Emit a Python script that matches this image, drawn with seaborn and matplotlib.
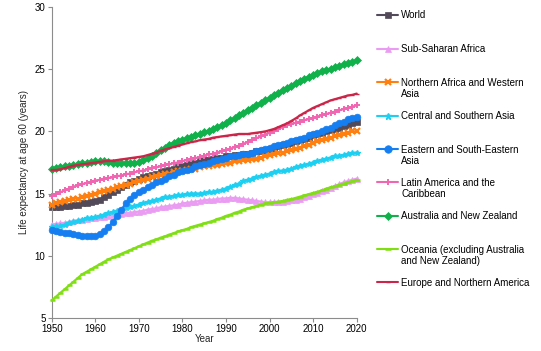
import numpy as np
import pandas as pd
import matplotlib
matplotlib.use("Agg")
import matplotlib.pyplot as plt
from matplotlib.lines import Line2D
import seaborn as sns

years = list(range(1950, 2021))

world = [13.9, 13.9, 13.9, 14.0, 14.0, 14.1, 14.1, 14.2, 14.2, 14.3,
         14.4, 14.5, 14.7, 14.9, 15.1, 15.3, 15.5, 15.7, 15.9, 16.0,
         16.2, 16.3, 16.4, 16.5, 16.6, 16.7, 16.8, 16.9, 17.0, 17.1,
         17.2, 17.3, 17.4, 17.5, 17.6, 17.7, 17.7, 17.8, 17.9, 17.9,
         18.0, 18.0, 18.1, 18.1, 18.2, 18.2, 18.3, 18.4, 18.4, 18.5,
         18.6, 18.7, 18.8, 18.9, 19.0, 19.1, 19.2, 19.3, 19.4, 19.5,
         19.7, 19.8, 19.9, 20.0, 20.1, 20.2, 20.3, 20.4, 20.5, 20.7, 20.8]

sub_saharan = [12.5, 12.55, 12.6, 12.65, 12.7, 12.8, 12.85, 12.9, 12.95, 13.0,
               13.05, 13.1, 13.15, 13.2, 13.25, 13.3, 13.35, 13.4, 13.45, 13.5,
               13.55, 13.6, 13.7, 13.75, 13.8, 13.9, 13.95, 14.0, 14.05, 14.1,
               14.2, 14.25, 14.3, 14.35, 14.4, 14.45, 14.5, 14.5, 14.55, 14.6,
               14.6, 14.65, 14.65, 14.6, 14.55, 14.5, 14.45, 14.4, 14.35, 14.3,
               14.3, 14.3, 14.3, 14.35, 14.4, 14.45, 14.5, 14.6, 14.7, 14.8,
               14.95, 15.05, 15.2, 15.3, 15.45, 15.6, 15.75, 15.9, 16.0, 16.1, 16.2]

n_africa_w_asia = [14.1, 14.2, 14.3, 14.4, 14.5, 14.6, 14.6, 14.7, 14.8, 14.9,
                   15.0, 15.1, 15.2, 15.3, 15.4, 15.5, 15.6, 15.7, 15.8, 15.9,
                   16.0, 16.1, 16.2, 16.3, 16.4, 16.5, 16.6, 16.6, 16.7, 16.8,
                   16.8, 16.9, 17.0, 17.0, 17.1, 17.2, 17.2, 17.3, 17.3, 17.4,
                   17.5, 17.5, 17.6, 17.6, 17.7, 17.7, 17.8, 17.8, 17.9, 18.0,
                   18.1, 18.2, 18.3, 18.3, 18.4, 18.5, 18.6, 18.7, 18.8, 18.9,
                   19.1, 19.2, 19.3, 19.4, 19.5, 19.6, 19.7, 19.8, 19.9, 20.0, 20.0]

c_s_asia = [12.3, 12.35, 12.4, 12.5, 12.6, 12.7, 12.8, 12.9, 13.0, 13.05,
            13.1, 13.2, 13.3, 13.4, 13.5, 13.6, 13.7, 13.8, 13.9, 14.0,
            14.1, 14.2, 14.3, 14.4, 14.5, 14.6, 14.7, 14.75, 14.8, 14.85,
            14.9, 14.95, 15.0, 15.0, 15.0, 15.05, 15.1, 15.1, 15.2, 15.3,
            15.4, 15.5, 15.7, 15.8, 16.0, 16.1, 16.2, 16.3, 16.4, 16.5,
            16.6, 16.7, 16.8, 16.85, 16.9, 17.0, 17.1, 17.2, 17.3, 17.4,
            17.5, 17.6, 17.7, 17.8, 17.9, 18.0, 18.05, 18.1, 18.2, 18.25, 18.3]

e_se_asia = [12.1, 12.0, 11.9, 11.85, 11.8, 11.75, 11.7, 11.6, 11.55, 11.55,
             11.6, 11.75, 12.0, 12.3, 12.7, 13.2, 13.7, 14.2, 14.6, 14.9,
             15.1, 15.3, 15.5, 15.7, 15.9, 16.0, 16.2, 16.4, 16.5, 16.7,
             16.8, 16.9, 17.0, 17.2, 17.3, 17.4, 17.5, 17.6, 17.7, 17.8,
             17.9, 18.0, 18.0, 18.1, 18.2, 18.2, 18.3, 18.4, 18.5, 18.6,
             18.7, 18.8, 18.9, 19.0, 19.1, 19.2, 19.3, 19.4, 19.5, 19.7,
             19.8, 19.9, 20.0, 20.2, 20.3, 20.5, 20.7, 20.8, 21.0, 21.1, 21.2]

latin_america = [14.8, 14.95, 15.1, 15.25, 15.4, 15.55, 15.65, 15.75, 15.85, 15.95,
                 16.05, 16.1, 16.2, 16.25, 16.3, 16.4, 16.45, 16.55, 16.6, 16.7,
                 16.8, 16.85, 16.95, 17.05, 17.1, 17.2, 17.3, 17.35, 17.45, 17.5,
                 17.6, 17.7, 17.8, 17.85, 17.95, 18.05, 18.15, 18.2, 18.3, 18.4,
                 18.5, 18.6, 18.75, 18.85, 19.0, 19.15, 19.3, 19.45, 19.6, 19.75,
                 19.9, 20.05, 20.2, 20.35, 20.5, 20.6, 20.7, 20.8, 20.9, 21.0,
                 21.1, 21.2, 21.3, 21.4, 21.5, 21.6, 21.7, 21.8, 21.9, 22.0, 22.1]

australia_nz = [17.0, 17.05, 17.1, 17.2, 17.25, 17.3, 17.4, 17.45, 17.5, 17.55,
                17.6, 17.6, 17.6, 17.55, 17.5, 17.5, 17.45, 17.45, 17.45, 17.5,
                17.55, 17.7, 17.85, 18.05, 18.3, 18.5, 18.7, 18.9, 19.1, 19.2,
                19.35, 19.45, 19.55, 19.7, 19.8, 19.95, 20.05, 20.2, 20.35, 20.5,
                20.7, 20.9, 21.1, 21.3, 21.5, 21.7, 21.9, 22.1, 22.3, 22.5,
                22.7, 22.9, 23.1, 23.3, 23.5, 23.7, 23.9, 24.1, 24.25, 24.4,
                24.55, 24.7, 24.85, 24.95, 25.05, 25.2, 25.3, 25.4, 25.5, 25.6, 25.75]

oceania_other = [6.4, 6.7, 7.0, 7.3, 7.6, 7.9, 8.2, 8.5, 8.7, 8.9,
                 9.1, 9.3, 9.5, 9.7, 9.85, 10.0, 10.15, 10.3, 10.45, 10.6,
                 10.75, 10.9, 11.05, 11.2, 11.3, 11.45, 11.55, 11.7, 11.8, 11.95,
                 12.05, 12.15, 12.3, 12.4, 12.5, 12.6, 12.7, 12.8, 12.95, 13.05,
                 13.2, 13.3, 13.45, 13.55, 13.7, 13.8, 13.9, 14.0, 14.1, 14.2,
                 14.25, 14.3, 14.35, 14.4, 14.5, 14.55, 14.65, 14.75, 14.85, 14.95,
                 15.05, 15.15, 15.25, 15.4, 15.5, 15.6, 15.7, 15.8, 15.9, 16.0, 16.1]

europe_na = [16.9, 16.9, 16.95, 17.05, 17.15, 17.25, 17.3, 17.35, 17.4, 17.45,
             17.5, 17.55, 17.6, 17.65, 17.65, 17.7, 17.75, 17.8, 17.85, 17.9,
             17.95, 18.0, 18.1, 18.2, 18.3, 18.45, 18.55, 18.65, 18.75, 18.85,
             18.95, 19.05, 19.15, 19.2, 19.3, 19.35, 19.4, 19.5, 19.55, 19.6,
             19.65, 19.7, 19.75, 19.8, 19.8, 19.8, 19.85, 19.9, 19.95, 20.0,
             20.1, 20.2, 20.35, 20.5, 20.65, 20.85, 21.05, 21.3, 21.5, 21.7,
             21.9, 22.05, 22.2, 22.35, 22.5, 22.6, 22.7, 22.8, 22.9, 22.95, 23.05]

series_names = ["World", "Sub-Saharan Africa", "Northern Africa and Western Asia",
                "Central and Southern Asia", "Eastern and South-Eastern Asia",
                "Latin America and the Caribbean", "Australia and New Zealand",
                "Oceania (excluding Australia and New Zealand)",
                "Europe and Northern America"]
legend_labels = ["World", "Sub-Saharan Africa", "Northern Africa and Western\nAsia",
                 "Central and Southern Asia", "Eastern and South-Eastern\nAsia",
                 "Latin America and the\nCaribbean", "Australia and New Zealand",
                 "Oceania (excluding Australia\nand New Zealand)",
                 "Europe and Northern America"]
series_values = [world, sub_saharan, n_africa_w_asia, c_s_asia, e_se_asia,
                 latin_america, australia_nz, oceania_other, europe_na]

x_ticks = [1950, 1960, 1970, 1980, 1990, 2000, 2010, 2020]
y_ticks = [5, 10, 15, 20, 25, 30]

colors = ["#524A59", "#EA9CF2", "#FF7F0F", "#1DD0F2", "#157EF0",
          "#F066B2", "#10B04A", "#7FDF12", "#CB2649"]
markers = ["s", "^", "x", "*", "o", "+", "D", "_", "_"]
msizes = [4.0, 4.0, 4.0, 4.4, 4.8, 4.4, 3.8, 3.6, 2.5]
mews = [0.5, 0.5, 1.6, 1.0, 0.5, 1.4, 0.5, 1.8, 1.0]

rows = []
for name, vals in zip(series_names, series_values):
    for yr, v in zip(years, vals):
        rows.append({"Year": yr, "Value": v, "Region": name})
df = pd.DataFrame(rows)

sns.set_theme(style="white")
plt.rcParams["font.family"] = ["Liberation Sans", "DejaVu Sans"]

fig = plt.figure(figsize=(5.41, 3.51), dpi=100)
ax = fig.add_axes([51.7 / 541, 1 - 317.7 / 351, (356.7 - 51.7) / 541, (317.7 - 7.3) / 351])

for i, name in enumerate(series_names):
    sub = df[df["Region"] == name]
    sns.lineplot(data=sub, x="Year", y="Value", ax=ax, color=colors[i],
                 marker=markers[i], markersize=msizes[i], markeredgewidth=mews[i],
                 markeredgecolor=colors[i], linewidth=1.6, clip_on=False,
                 legend=False, zorder=2 + i)

ax.set_xlim(1950, 2020)
ax.set_ylim(5, 30)
ax.set_xticks(x_ticks)
ax.set_yticks(y_ticks)
ax.set_xlabel("Year", fontsize=7, labelpad=0)
ax.set_ylabel("Life expectancy at age 60 (years)", fontsize=7, labelpad=4)
for s in ["top", "right"]:
    ax.spines[s].set_visible(False)
for s in ["left", "bottom"]:
    ax.spines[s].set_color("#8C8C8C")
    ax.spines[s].set_linewidth(0.8)
ax.tick_params(axis="both", which="major", direction="out", length=3, width=0.8,
               color="#8C8C8C", labelsize=7, pad=1.5, labelcolor="black",
               bottom=True, left=True)
ax.grid(False)

# legend (manual layout to match the reference's fixed spacing)
entry_y = [14.7, 48.7, 82.0, 115.7, 149.0, 182.3, 215.7, 249.0, 282.3]
line_gap = 11.3
for i, lab in enumerate(legend_labels):
    yf = 1 - entry_y[i] / 351
    fig.add_artist(Line2D([377 / 541, 398 / 541], [yf, yf], transform=fig.transFigure,
                          color=colors[i], linewidth=1.5, marker=None))
    fig.add_artist(Line2D([387.5 / 541], [yf], transform=fig.transFigure,
                          color=colors[i], marker=markers[i], markersize=msizes[i] + 0.6,
                          markeredgewidth=mews[i], markeredgecolor=colors[i],
                          linestyle="none"))
    for k, part in enumerate(lab.split("\n")):
        fig.text(401 / 541, 1 - (entry_y[i] + 3.6 + k * line_gap) / 351, part,
                 fontsize=7, va="baseline", ha="left", color="black")

fig.savefig("out.png", dpi=100)
